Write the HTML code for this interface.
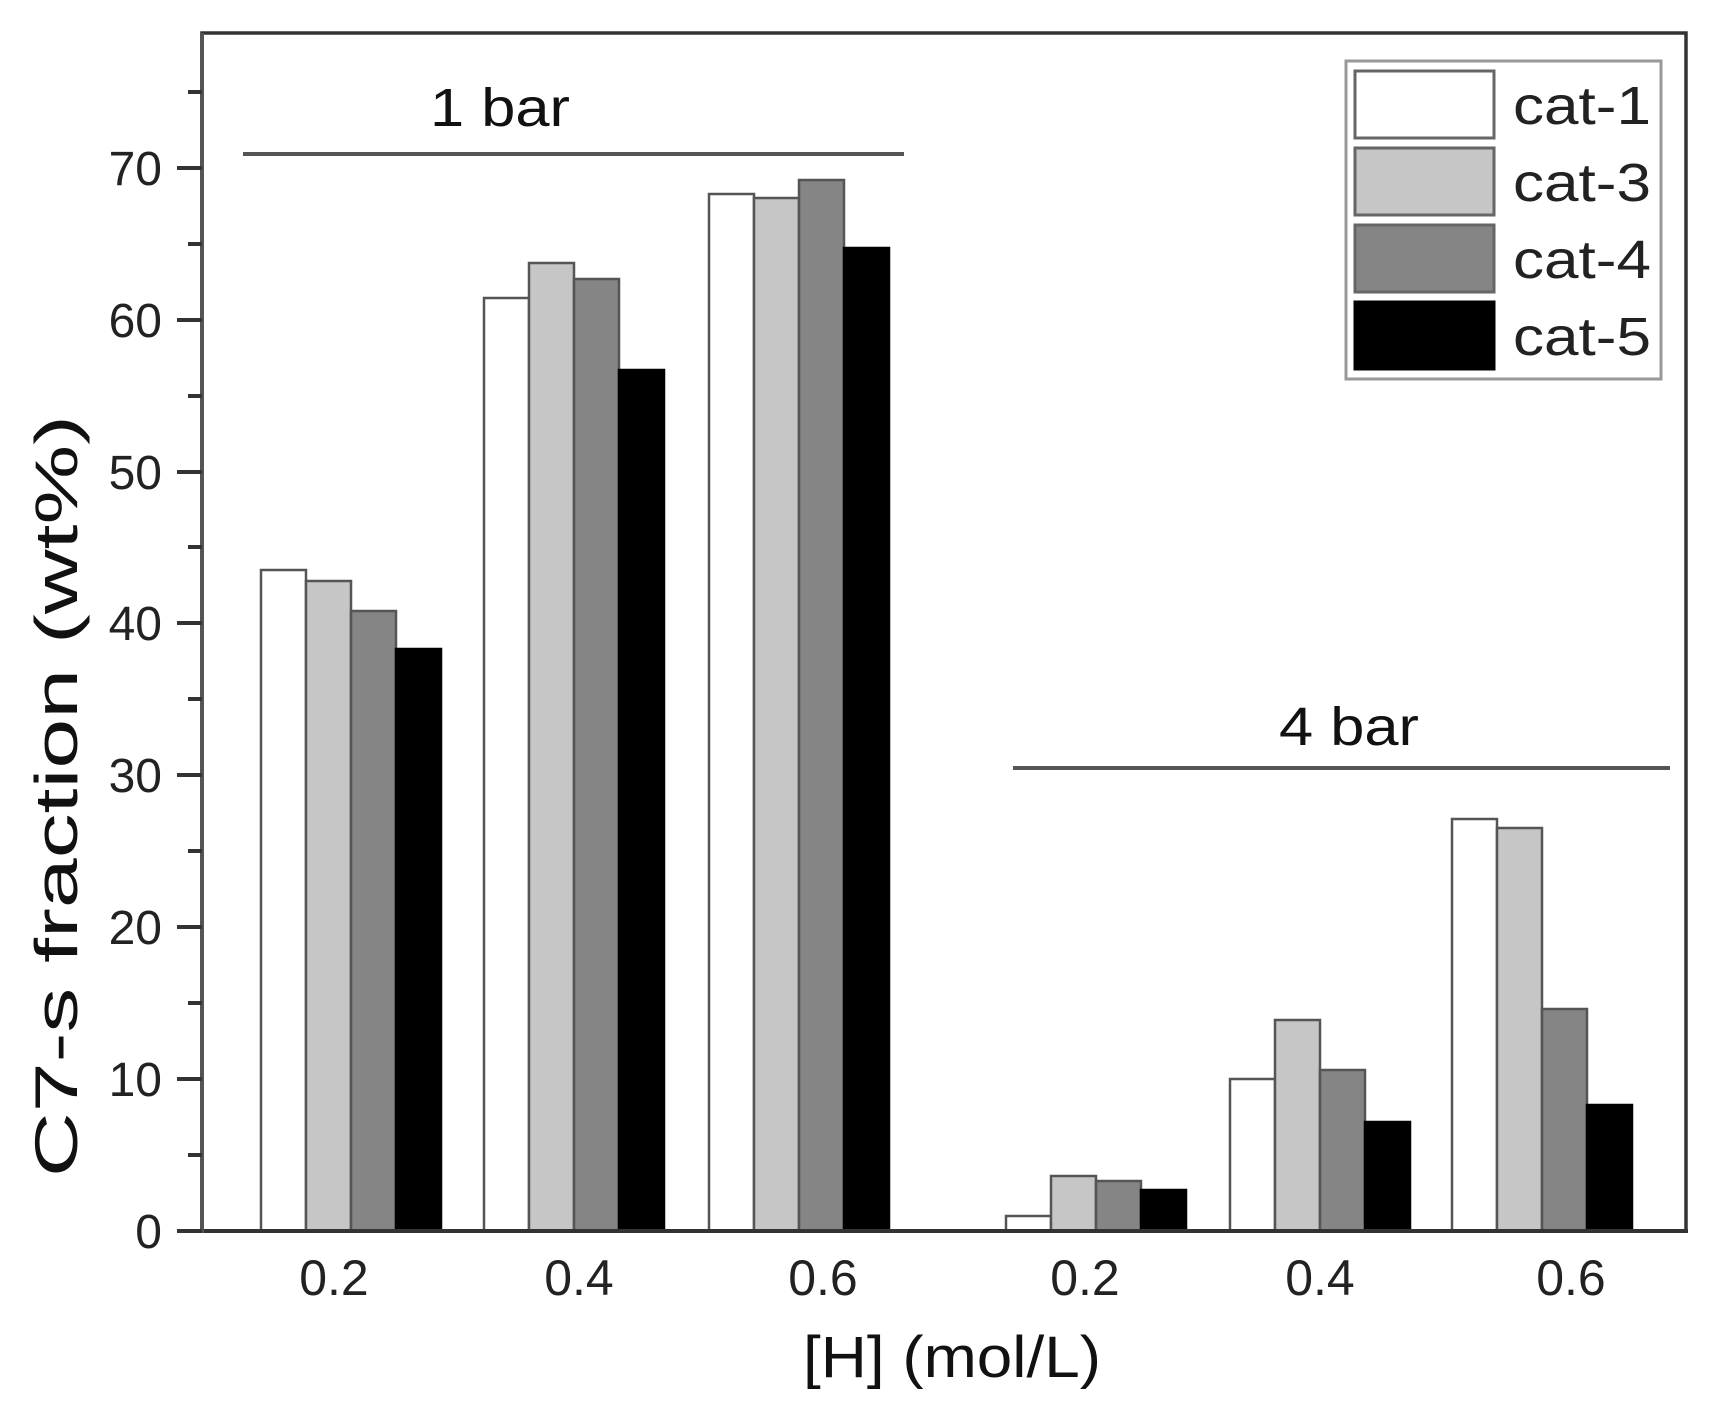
<!DOCTYPE html>
<html><head><meta charset="utf-8"><style>html,body{margin:0;padding:0;background:#fff}svg{display:block}</style></head>
<body>
<svg width="1719" height="1408" viewBox="0 0 1719 1408" xmlns="http://www.w3.org/2000/svg" font-family="Liberation Sans, sans-serif">
<rect width="1719" height="1408" fill="#fff"/>
<g stroke="#555" stroke-width="2.5">
<rect x="261" y="570" width="45" height="661" fill="#fff"/>
<rect x="306" y="581" width="45" height="650" fill="#c6c6c6"/>
<rect x="351" y="611" width="45" height="620" fill="#858585"/>
<rect x="396" y="649" width="45" height="582" fill="#000" stroke="#000"/>
<rect x="484" y="298" width="45" height="933" fill="#fff"/>
<rect x="529" y="263" width="45" height="968" fill="#c6c6c6"/>
<rect x="574" y="279" width="45" height="952" fill="#858585"/>
<rect x="619" y="370" width="45" height="861" fill="#000" stroke="#000"/>
<rect x="709" y="194" width="45" height="1037" fill="#fff"/>
<rect x="754" y="198" width="45" height="1033" fill="#c6c6c6"/>
<rect x="799" y="180" width="45" height="1051" fill="#858585"/>
<rect x="844" y="248" width="45" height="983" fill="#000" stroke="#000"/>
<rect x="1006" y="1216" width="45" height="15" fill="#fff"/>
<rect x="1051" y="1176" width="45" height="55" fill="#c6c6c6"/>
<rect x="1096" y="1181" width="45" height="50" fill="#858585"/>
<rect x="1141" y="1190" width="45" height="41" fill="#000" stroke="#000"/>
<rect x="1230" y="1079" width="45" height="152" fill="#fff"/>
<rect x="1275" y="1020" width="45" height="211" fill="#c6c6c6"/>
<rect x="1320" y="1070" width="45" height="161" fill="#858585"/>
<rect x="1365" y="1122" width="45" height="109" fill="#000" stroke="#000"/>
<rect x="1452" y="819" width="45" height="412" fill="#fff"/>
<rect x="1497" y="828" width="45" height="403" fill="#c6c6c6"/>
<rect x="1542" y="1009" width="45" height="222" fill="#858585"/>
<rect x="1587" y="1105" width="45" height="126" fill="#000" stroke="#000"/>
</g>
<path d="M202 1231 V33 H1686 V1231" fill="none" stroke="#333" stroke-width="3.5"/>
<line x1="178" y1="1231" x2="1688" y2="1231" stroke="#333" stroke-width="4"/>
<line x1="202" y1="33" x2="202" y2="1233" stroke="#555" stroke-width="4"/>
<g stroke="#333" stroke-width="4">
<line x1="177" y1="1231" x2="202" y2="1231"/><line x1="188" y1="1155" x2="202" y2="1155"/>
<line x1="177" y1="1079" x2="202" y2="1079"/><line x1="188" y1="1003" x2="202" y2="1003"/>
<line x1="177" y1="927" x2="202" y2="927"/><line x1="188" y1="851" x2="202" y2="851"/>
<line x1="177" y1="775" x2="202" y2="775"/><line x1="188" y1="699" x2="202" y2="699"/>
<line x1="177" y1="623" x2="202" y2="623"/><line x1="188" y1="547" x2="202" y2="547"/>
<line x1="177" y1="472" x2="202" y2="472"/><line x1="188" y1="396" x2="202" y2="396"/>
<line x1="177" y1="320" x2="202" y2="320"/><line x1="188" y1="244" x2="202" y2="244"/>
<line x1="177" y1="168" x2="202" y2="168"/><line x1="188" y1="92" x2="202" y2="92"/>
</g>
<g font-size="48" fill="#222" text-anchor="end">
<text x="162" y="1248">0</text><text x="162" y="1096">10</text><text x="162" y="944">20</text>
<text x="162" y="792">30</text><text x="162" y="640">40</text><text x="162" y="489">50</text>
<text x="162" y="337">60</text><text x="162" y="185">70</text>
</g>
<g font-size="50" fill="#222" text-anchor="middle">
<text x="334" y="1295">0.2</text><text x="579" y="1295">0.4</text><text x="823" y="1295">0.6</text>
<text x="1085" y="1295">0.2</text><text x="1320" y="1295">0.4</text><text x="1571" y="1295">0.6</text>
</g>
<text x="952" y="1377" font-size="58" fill="#111" text-anchor="middle" textLength="298" lengthAdjust="spacingAndGlyphs">[H] (mol/L)</text>
<text transform="translate(77,796) rotate(-90)" font-size="60" fill="#111" text-anchor="middle" textLength="762" lengthAdjust="spacingAndGlyphs">C7-s fraction (wt%)</text>
<line x1="243" y1="154" x2="904" y2="154" stroke="#555" stroke-width="4"/>
<text x="500" y="126" font-size="54" fill="#111" text-anchor="middle" textLength="140" lengthAdjust="spacingAndGlyphs">1 bar</text>
<line x1="1013" y1="768" x2="1670" y2="768" stroke="#555" stroke-width="4"/>
<text x="1349" y="745" font-size="54" fill="#111" text-anchor="middle" textLength="140" lengthAdjust="spacingAndGlyphs">4 bar</text>
<rect x="1346" y="61" width="315" height="318" fill="#fff" stroke="#999" stroke-width="3"/>
<g stroke="#666" stroke-width="3">
<rect x="1355" y="71" width="139" height="67" fill="#fff"/>
<rect x="1355" y="148" width="139" height="67" fill="#c6c6c6"/>
<rect x="1355" y="225" width="139" height="67" fill="#858585"/>
<rect x="1355" y="302" width="139" height="67" fill="#000" stroke="#000"/>
</g>
<g font-size="54" fill="#222">
<text x="1513" y="124" textLength="138" lengthAdjust="spacingAndGlyphs">cat-1</text>
<text x="1513" y="201" textLength="138" lengthAdjust="spacingAndGlyphs">cat-3</text>
<text x="1513" y="278" textLength="138" lengthAdjust="spacingAndGlyphs">cat-4</text>
<text x="1513" y="355" textLength="138" lengthAdjust="spacingAndGlyphs">cat-5</text>
</g>
</svg>
</body></html>
